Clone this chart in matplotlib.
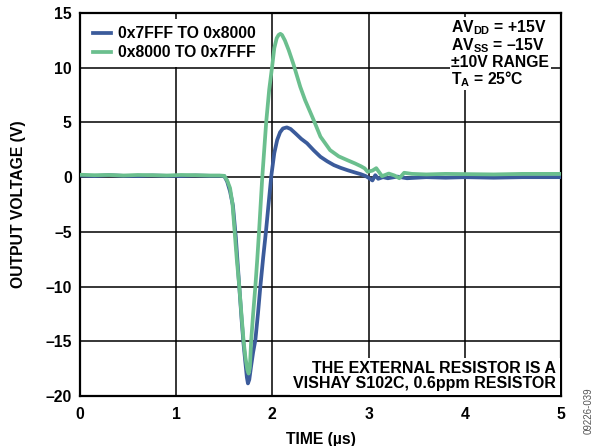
import numpy as np
import matplotlib.pyplot as plt

# (time us, volts)
# 0x7FFF -> 0x8000 (blue trace)
blue_pts = [
    (0.0, 0.15), (0.15, 0.1), (0.3, 0.18), (0.45, 0.12), (0.6, 0.1),
    (0.75, 0.15), (0.9, 0.12), (1.05, 0.1), (1.2, 0.15), (1.35, 0.12),
    (1.45, 0.12), (1.5, 0.1), (1.53, -0.4), (1.56, -1.3), (1.59, -2.6),
    (1.62, -5.5), (1.64, -8.0), (1.66, -10.5), (1.68, -13.0), (1.70, -15.2),
    (1.72, -17.0), (1.735, -18.3), (1.746, -18.85), (1.76, -18.5),
    (1.78, -17.2), (1.80, -16.0), (1.823, -14.9), (1.85, -12.5),
    (1.875, -10.0), (1.905, -7.3), (1.934, -4.9), (1.96, -2.5), (1.99, 0.2),
    (2.02, 2.2), (2.05, 3.4), (2.08, 4.1), (2.11, 4.45), (2.15, 4.55),
    (2.19, 4.4), (2.24, 4.0), (2.30, 3.5), (2.36, 3.1), (2.43, 2.45),
    (2.50, 1.86), (2.57, 1.45), (2.64, 1.1), (2.71, 0.85), (2.78, 0.64),
    (2.85, 0.45), (2.92, 0.27), (2.97, 0.1), (3.0, -0.06), (3.04, -0.3),
    (3.07, 0.18), (3.1, -0.15), (3.15, 0.0), (3.2, -0.1), (3.3, 0.05),
    (3.4, -0.1), (3.6, 0.0), (3.8, -0.05), (4.0, 0.0), (4.3, -0.05),
    (4.6, 0.0), (5.0, 0.0),
]

# 0x8000 -> 0x7FFF (green trace)
green_pts = [
    (0.0, 0.22), (0.15, 0.18), (0.3, 0.2), (0.45, 0.15), (0.6, 0.2),
    (0.75, 0.18), (0.9, 0.15), (1.05, 0.2), (1.2, 0.18), (1.35, 0.15),
    (1.45, 0.15), (1.5, 0.12), (1.53, -0.3), (1.56, -1.0), (1.585, -2.4),
    (1.607, -4.9), (1.63, -7.5), (1.656, -10.0), (1.68, -12.7),
    (1.70, -14.9), (1.72, -16.5), (1.74, -17.6), (1.753, -17.95),
    (1.766, -17.4), (1.78, -14.9), (1.80, -12.5), (1.823, -10.0),
    (1.843, -7.5), (1.862, -4.9), (1.895, 0.0), (1.936, 5.05), (1.967, 8.0),
    (1.997, 10.08), (2.02, 11.8), (2.045, 12.7), (2.065, 13.0),
    (2.083, 13.1), (2.10, 13.0), (2.13, 12.5), (2.17, 11.6), (2.22, 10.3),
    (2.29, 8.25), (2.34, 7.04), (2.43, 5.2), (2.50, 3.7), (2.60, 2.47),
    (2.69, 1.9), (2.78, 1.55), (2.86, 1.25), (2.92, 1.0), (2.96, 0.8),
    (2.99, 0.49), (3.04, 0.6), (3.08, 0.82), (3.14, 0.09), (3.21, 0.33),
    (3.27, 0.15), (3.32, -0.1), (3.37, 0.4), (3.45, 0.3), (3.6, 0.25),
    (3.8, 0.3), (4.0, 0.28), (4.3, 0.25), (4.6, 0.3), (5.0, 0.3),
]

labels = ["0x7FFF TO 0x8000", "0x8000 TO 0x7FFF"]
x_ticks = [0, 1, 2, 3, 4, 5]
y_ticks = [-20, -15, -10, -5, 0, 5, 10, 15]

plt.rcParams['font.family'] = ['Liberation Sans', 'DejaVu Sans']
plt.rcParams['font.weight'] = 'bold'
plt.rcParams['mathtext.fontset'] = 'custom'
plt.rcParams['mathtext.rm'] = 'Liberation Sans:bold'
plt.rcParams['mathtext.bf'] = 'Liberation Sans:bold'

fig = plt.figure(figsize=(5.96, 4.46), dpi=100)
ax = fig.add_axes([0.1342, 0.1121, 0.807, 0.8587])

t_blue, v_blue = zip(*blue_pts)
t_green, v_green = zip(*green_pts)
ax.plot(t_blue, v_blue, color='#3b5b9b', lw=2.7, label=labels[0], zorder=3)
ax.plot(t_green, v_green, color='#6bbf8e', lw=2.7, label=labels[1], zorder=4)

ax.set_xlim(0, 5)
ax.set_ylim(-20, 15)
ax.set_xticks(x_ticks)
ax.set_yticks(y_ticks)
ax.set_yticklabels([str(v).replace('-', '\u2013') for v in y_ticks])
ax.tick_params(length=0, labelsize=11.3)
ax.tick_params(axis='x', pad=8)
ax.tick_params(axis='y', pad=6)
ax.grid(True, color='black', lw=1.1)
ax.set_axisbelow(True)
for s in ax.spines.values():
    s.set_linewidth(1.6)

ax.set_xlabel("TIME (\u00b5s)", fontsize=11.3, fontweight='bold', labelpad=7)
ax.set_ylabel("OUTPUT VOLTAGE (V)", fontsize=11.3, fontweight='bold',
              labelpad=14)

leg = ax.legend(loc='upper left', bbox_to_anchor=(0.0, 1.0), frameon=True,
                fancybox=False, edgecolor='white', framealpha=1.0,
                fontsize=11.3, handlelength=1.1, handletextpad=0.5,
                borderpad=0.45, labelspacing=0.25, borderaxespad=0.4)
leg.get_frame().set_linewidth(0)
leg.set_zorder(5)

cond = ("AV$_{\\rm DD}$ = +15V\nAV$_{\\rm SS}$ = \u201315V\n"
        "\u00b110V RANGE\nT$_{\\rm A}$ = 25\u00b0C")
ax.text(0.772, 0.985, cond, transform=ax.transAxes, ha='left', va='top',
        fontsize=11.3, fontweight='bold', linespacing=0.95, zorder=6,
        bbox=dict(facecolor='white', edgecolor='none', pad=1.0))

note = "THE EXTERNAL RESISTOR IS A\nVISHAY S102C, 0.6ppm RESISTOR"
ax.text(0.99, 0.012, note, transform=ax.transAxes, ha='right', va='bottom',
        multialignment='right', fontsize=11.5, fontweight='bold',
        linespacing=1.0, zorder=6,
        bbox=dict(facecolor='white', edgecolor='none', pad=2.5))

fig.text(0.987, 0.08, "09226-039", rotation=90, fontsize=7, color='#555555',
         fontweight='normal', ha='center', va='center')

fig.savefig("out.png", dpi=100)
